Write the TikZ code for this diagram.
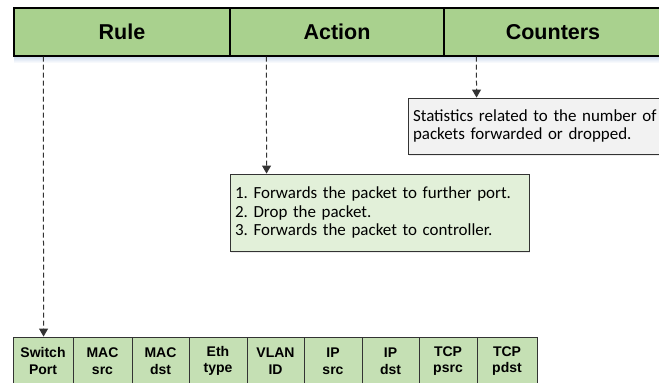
\documentclass[tikz,border=0pt]{standalone}
\usepackage{fontspec}
\setmainfont{Carlito}
\newfontfamily\arialfont{Liberation Sans}
\usetikzlibrary{arrows.meta,shadows}
\frenchspacing
\definecolor{hdrgreen}{HTML}{A9D18E}
\definecolor{cellgreen}{HTML}{C5E0B4}
\definecolor{boxgreen}{HTML}{E2F0D9}
\definecolor{boxgray}{HTML}{F2F2F2}
\definecolor{shadowblue}{HTML}{C9D8EC}
\definecolor{linegray}{HTML}{333333}
\tikzset{
  hdr/.style={draw=black, line width=1.2pt, fill=hdrgreen, minimum height=48pt, inner sep=0pt,
    font=\arialfont\bfseries\fontsize{21.5}{24}\selectfont},
  fieldcell/.style={draw=linegray, line width=0.9pt, fill=cellgreen, minimum height=48pt, inner sep=0pt,
    align=center, font=\arialfont\bfseries\fontsize{14}{16.5}\selectfont},
  notebox/.style={draw=linegray, line width=0.9pt, inner xsep=5pt, inner ysep=0pt, align=left,
    font=\fontsize{16.95}{18.5}\selectfont, drop shadow={shadow xshift=1pt, shadow yshift=-2pt, opacity=0.15}},
  darr/.style={draw=linegray, line width=1pt, dash pattern=on 5pt off 3pt,
    -{Triangle[width=9pt,length=8pt]}}
}
\begin{document}
\begin{tikzpicture}[x=1pt,y=-1pt]
\useasboundingbox (0,0) rectangle (659,383);
\fill[white] (0,0) rectangle (659,383);
% header shadow
\shade[top color=shadowblue, bottom color=white] (14,56) rectangle (662,63);
% header
\node[hdr, minimum width=216pt] (rule) at (122,32) {Rule};
\node[hdr, minimum width=214pt] (action) at (337,32) {Action};
\node[hdr, minimum width=218pt] (counters) at (553,32) {Counters};
% note boxes
\node[notebox, fill=boxgray, minimum width=262pt, minimum height=56pt, text width=252pt] (cntbox) at (539,126)
  {Statistics related to the number of\\packets forwarded or dropped.};
\node[notebox, fill=boxgreen, minimum width=299pt, minimum height=77pt, text width=289pt] (actbox) at (379.5,212.5)
  {1. Forwards the packet to further port.\\2. Drop the packet.\\3. Forwards the packet to controller.};
% field table
\node[fieldcell, minimum width=60pt] (f1) at (43,361) {Switch\\Port};
\node[fieldcell, minimum width=59pt] (f2) at (102.5,361) {MAC\\src};
\node[fieldcell, minimum width=57pt] (f3) at (160.5,361) {MAC\\dst};
\node[fieldcell, minimum width=58pt] (f4) at (218,361) {Eth\\type};
\node[fieldcell, minimum width=57pt] (f5) at (275.5,361) {VLAN\\ID};
\node[fieldcell, minimum width=58pt] (f6) at (333,361) {IP\\src};
\node[fieldcell, minimum width=57pt] (f7) at (390.5,361) {IP\\dst};
\node[fieldcell, minimum width=58pt] (f8) at (448,361) {TCP\\psrc};
\node[fieldcell, minimum width=60pt] (f9) at (507,361) {TCP\\pdst};
% connectors
\draw[darr] ([xshift=30pt]rule.south west) -- ([xshift=31pt]f1.north west);
\draw[darr] ([xshift=37pt]action.south west) -- ([xshift=37pt]actbox.north west);
\draw[darr] ([xshift=33pt]counters.south west) -- ([xshift=69pt]cntbox.north west);
\end{tikzpicture}
\end{document}
